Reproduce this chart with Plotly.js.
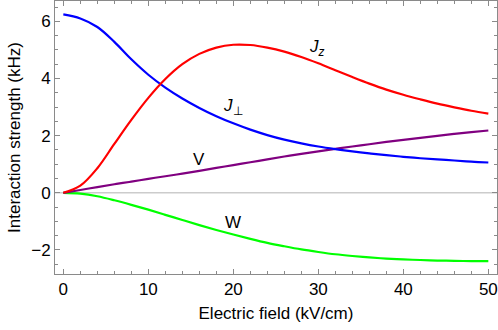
<!DOCTYPE html>
<html>
<head>
<meta charset="utf-8">
<script src="https://cdn.plot.ly/plotly-3.0.1.min.js"></script>
<style>html,body{margin:0;padding:0;background:#fff;}#chart{width:498px;height:330px;}</style>
</head>
<body>
<div id="chart"></div>
<script>
const field = [0,2,4,6,8,10,12,14,16,18,20,22,24,26,28,30,32,34,36,38,40,42,44,46,48,50];
const Jperp = [6.24,6.1,5.8,5.28,4.67,4.13,3.68,3.3,2.97,2.68,2.43,2.21,2.02,1.86,1.73,1.62,1.53,1.45,1.38,1.32,1.26,1.21,1.17,1.13,1.09,1.06];
const Jz = [0,0.25,0.86,1.71,2.55,3.32,3.98,4.5,4.86,5.08,5.18,5.17,5.08,4.94,4.75,4.53,4.29,4.05,3.82,3.61,3.43,3.27,3.12,2.99,2.87,2.77];
const V = [0,0.1,0.2,0.3,0.39,0.49,0.58,0.67,0.77,0.87,0.97,1.07,1.17,1.27,1.36,1.45,1.54,1.62,1.7,1.78,1.85,1.92,1.99,2.06,2.12,2.18];
const W = [0,-0.03,-0.12,-0.26,-0.42,-0.59,-0.77,-0.95,-1.13,-1.3,-1.46,-1.61,-1.75,-1.87,-1.98,-2.07,-2.15,-2.21,-2.26,-2.3,-2.33,-2.35,-2.37,-2.38,-2.39,-2.39];

const labels = [
  {text:'<i>J<sub>z</sub></i>', x:29.9, y:5.05},
  {text:'<i>J</i><sub>⊥</sub>', x:20, y:3.0},
  {text:'V', x:16, y:1.17},
  {text:'W', x:20, y:-1.03}
];

const fontFam = 'Liberation Sans, Arial, sans-serif';
function tr(y, color){
  return {x:field, y:y, mode:'lines', line:{color:color, width:2.2, shape:'spline', smoothing:1}, hoverinfo:'skip', showlegend:false};
}
const data = [tr(W,'#00ff00'), tr(V,'#800080'), tr(Jperp,'#0000ff'), tr(Jz,'#ff0000')];

const axisCommon = {
  showline:true, linecolor:'#8a8a8a', linewidth:1, mirror:'ticks',
  ticks:'inside', ticklen:5, tickwidth:1, tickcolor:'#8a8a8a',
  showgrid:false, zeroline:false,
  tickfont:{family:fontFam, size:17, color:'#000'}
};
const layout = {
  width:498, height:330,
  margin:{l:55, r:1, t:1, b:56},
  paper_bgcolor:'#fff', plot_bgcolor:'#fff',
  xaxis: Object.assign({}, axisCommon, {
    range:[-0.98, 51.02], tickvals:[0,10,20,30,40,50],
    minor:{ticks:'inside', ticklen:3, dtick:2, tick0:0, tickcolor:'#8a8a8a', showgrid:false},
    title:{text:'Electric field (kV/cm)', font:{family:fontFam, size:17, color:'#000'}, standoff:8}
  }),
  yaxis: Object.assign({}, axisCommon, {
    range:[-2.84, 6.71], tickvals:[-2,0,2,4,6],
    minor:{ticks:'inside', ticklen:3, dtick:0.5, tick0:0, tickcolor:'#8a8a8a', showgrid:false},
    title:{text:'Interaction strength (kHz)', font:{family:fontFam, size:17, color:'#000'}, standoff:6}
  }),
  shapes:[{type:'line', xref:'paper', x0:0, x1:1, yref:'y', y0:0, y1:0, line:{color:'#cccccc', width:1.5}, layer:'below'}],
  annotations: labels.map(l => ({text:l.text, x:l.x, y:l.y, xref:'x', yref:'y', showarrow:false, font:{family:fontFam, size:17, color:'#000'}}))
};
Plotly.newPlot('chart', data, layout, {staticPlot:true, displayModeBar:false});
</script>
</body>
</html>
